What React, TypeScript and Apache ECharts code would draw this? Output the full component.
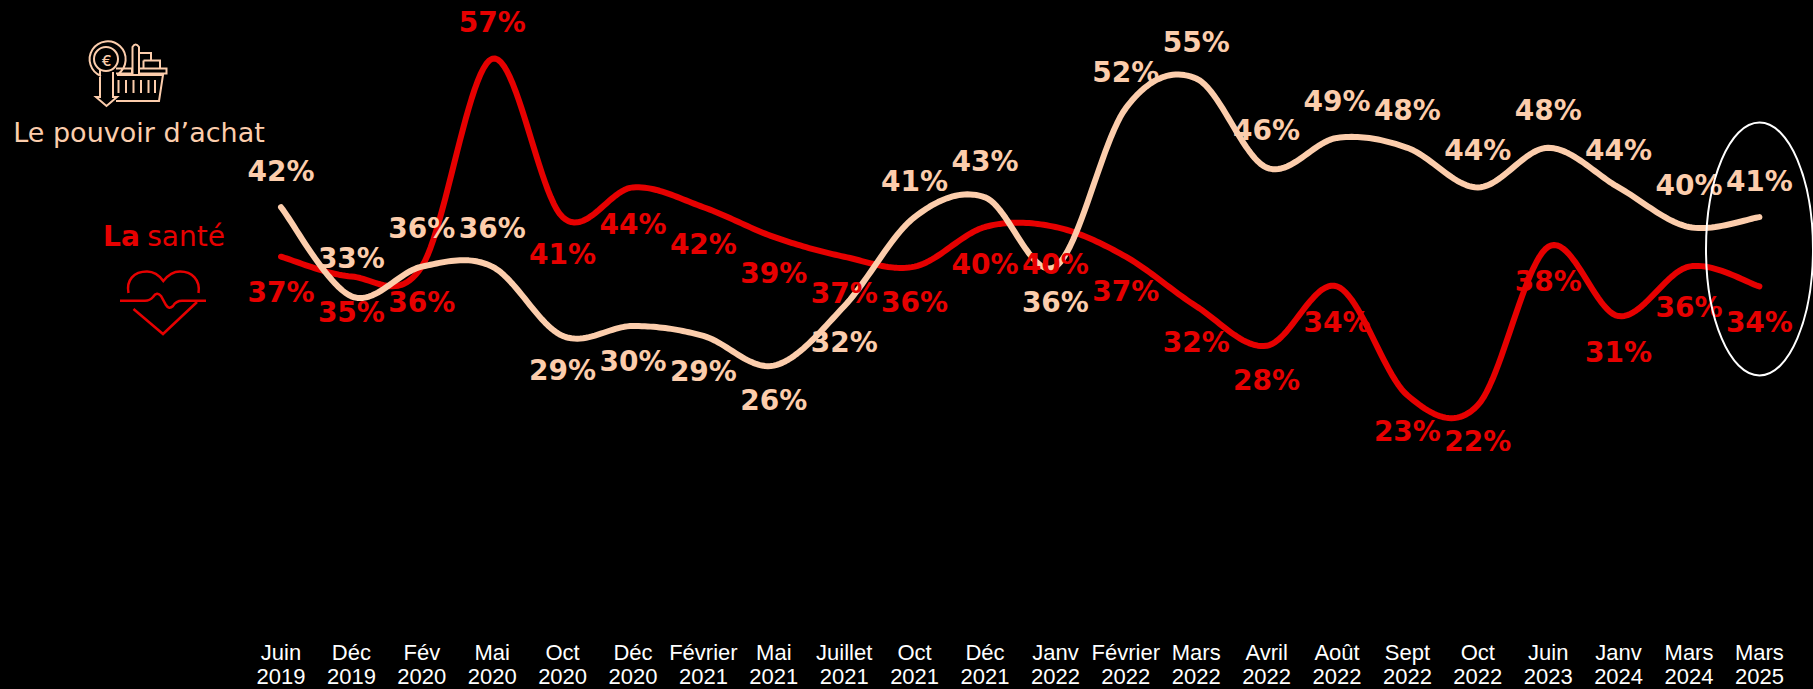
import React, { useEffect, useRef } from "react";
import * as echarts from "echarts";

const categories = [
  "Juin\n2019", "Déc\n2019", "Fév\n2020", "Mai\n2020", "Oct\n2020", "Déc\n2020", "Février\n2021", "Mai\n2021",
  "Juillet\n2021", "Oct\n2021", "Déc\n2021", "Janv\n2022", "Février\n2022", "Mars\n2022", "Avril\n2022", "Août\n2022",
  "Sept\n2022", "Oct\n2022", "Juin\n2023", "Janv\n2024", "Mars\n2024", "Mars\n2025",
];
const pouvoirAchat = [42, 33, 36, 36, 29, 30, 29, 26, 32, 41, 43, 36, 52, 55, 46, 49, 48, 44, 48, 44, 40, 41];
const sante = [37, 35, 36, 57, 41, 44, 42, 39, 37, 36, 40, 40, 37, 32, 28, 34, 23, 22, 38, 31, 36, 34];

const pouvoirLabelDy = [-36, -38, -38, -38, 35, 35, 36, 35, 36, -36, -36, 36, -36, -36, -37, -36, -37, -37, -37, -37, -42, -36];
const santeLabelDy = [36, 36, 36, -36, 37, 37, 37, 37, 37, 36, 37, 37, 35, 36, 35, 36, 36, 36, 35, 36, 41, 36];

const PEACH = "#FCCDAC";
const RED = "#E60000";
const LABEL_FONT = "DejaVu Sans";
const SEGMENT_STEPS = 24;

const basketPath =
  "M118 74 A18 18 0 1 0 101 76 " +
  "M118 59 A12 12 0 1 1 94 59 A12 12 0 1 1 118 59 " +
  "M100 70 L100 97 L96 97 L106.5 106 L117 97 L113 97 L113 72 " +
  "M116 68.5 L132 68.5 L132 73.5 L116 73.5 " +
  "M139 68.5 L166.5 68.5 L166.5 73.5 L139 73.5 " +
  "M117 75 L163 75 L159 101 L116 101 " +
  "M132.5 74 L132.5 47 Q135.5 42 139 47 L139 74 " +
  "M139 53 L151 53 L151 60 M143.5 60.5 L160 60.5 L160 68 M143.5 60.5 L143.5 68 " +
  "M118.5 80 L118.5 93 M126 80 L126 93 M133.5 80 L133.5 93 M141 80 L141 93 M148.5 80 L148.5 93 M155 80 L155 93";

const heartPath =
  "M128.5 293 C126 280 134 271.5 147 271.5 C154 271.5 159 275 163.3 281 C168 275 173 271.5 180 271.5 C192 271.5 200.5 280 198.5 293 " +
  "M120 300.7 L145 300.7 Q150 300.7 153 297 Q157 291 161 296 L166 305 Q169 310 173 306 Q176 300.7 182 300.7 L206 300.7 " +
  "M133.5 309 L163 334 L197 302";

echarts.graphic.registerShape("basketIcon", echarts.graphic.extendPath(basketPath, {}));
echarts.graphic.registerShape("heartIcon", echarts.graphic.extendPath(heartPath, {}));

// Catmull-Rom spline through the points the axes give for the values.
function splinePoints(pts: number[][]) {
  const out: number[][] = [];
  for (let i = 0; i < pts.length - 1; i++) {
    const p0 = pts[Math.max(i - 1, 0)];
    const p1 = pts[i];
    const p2 = pts[i + 1];
    const p3 = pts[Math.min(i + 2, pts.length - 1)];
    for (let s = 0; s < SEGMENT_STEPS; s++) {
      const t = s / SEGMENT_STEPS;
      const t2 = t * t;
      const t3 = t2 * t;
      out.push(
        [0, 1].map(
          (k) =>
            0.5 *
            (2 * p1[k] + (p2[k] - p0[k]) * t + (2 * p0[k] - 5 * p1[k] + 4 * p2[k] - p3[k]) * t2 + (3 * p1[k] - p0[k] - 3 * p2[k] + p3[k]) * t3),
        ),
      );
    }
  }
  out.push(pts[pts.length - 1]);
  return out;
}

function curveSeries(name: string, values: number[], color: string) {
  return {
    name: name + " (courbe)",
    type: "custom",
    coordinateSystem: "cartesian2d",
    z: 2,
    silent: true,
    clip: false,
    encode: { x: 0, y: 1 },
    data: values.map((v, i) => [i, v]),
    renderItem: (params: any, api: any) => {
      if (params.dataIndex !== 0) return null;
      const pts = values.map((v, i) => api.coord([i, v]));
      return {
        type: "polyline",
        shape: { points: splinePoints(pts) },
        style: { fill: "none", stroke: color, lineWidth: 6, lineCap: "round", lineJoin: "round" },
      };
    },
  };
}

function labelSeries(name: string, values: number[], dy: number[], color: string) {
  return {
    name,
    type: "line",
    z: 3,
    data: values.map((value, i) => ({ value, label: { offset: [0, dy[i]] } })),
    symbol: "circle",
    symbolSize: 1,
    showSymbol: true,
    itemStyle: { color: "transparent", borderWidth: 0 },
    lineStyle: { color, width: 0, opacity: 0 },
    label: {
      show: true,
      position: "inside",
      formatter: "{c}%",
      color,
      fontFamily: LABEL_FONT,
      fontWeight: 700,
      fontSize: 28,
      align: "center",
      verticalAlign: "middle",
    },
    emphasis: { disabled: true },
    silent: true,
  };
}

export default function App() {
  const ref = useRef<HTMLDivElement>(null);
  useEffect(() => {
    document.body.style.margin = "0";
    document.body.style.background = "#000";
    const chart = echarts.init(ref.current!, undefined, { renderer: "svg" });
    chart.setOption({
      animation: false,
      backgroundColor: "#000",
      grid: { left: 245.8, right: 18.4, top: 29, bottom: 66, containLabel: false, outerBoundsMode: "none" },
      xAxis: {
        type: "category",
        data: categories,
        boundaryGap: true,
        axisLine: { show: false },
        axisTick: { show: false },
        axisLabel: {
          interval: 0,
          color: "#fff",
          fontFamily: "Liberation Sans",
          fontSize: 22,
          lineHeight: 24,
          margin: 17.5,
          hideOverlap: false,
        },
      },
      yAxis: { type: "value", min: 0, max: 60, show: false },
      series: [
        curveSeries("La santé", sante, RED),
        curveSeries("Le pouvoir d’achat", pouvoirAchat, PEACH),
        labelSeries("La santé", sante, santeLabelDy, RED),
        labelSeries("Le pouvoir d’achat", pouvoirAchat, pouvoirLabelDy, PEACH),
      ],
      graphic: [
        {
          type: "basketIcon",
          style: { fill: "none", stroke: PEACH, lineWidth: 2 },
        },
        {
          type: "text",
          x: 106.5,
          y: 60,
          style: { text: "€", fill: PEACH, font: "500 15px Inter", align: "center", verticalAlign: "middle" },
        },
        {
          type: "text",
          x: 139,
          y: 132,
          style: { text: "Le pouvoir d’achat", fill: PEACH, font: "400 27px 'DejaVu Sans'", align: "center", verticalAlign: "middle" },
        },
        {
          type: "text",
          x: 164,
          y: 236,
          style: {
            text: "{b|La} {r|santé}",
            align: "center",
            verticalAlign: "middle",
            rich: {
              b: { fill: RED, font: "700 28px 'DejaVu Sans'", padding: [0, 4, 0, 0] },
              r: { fill: RED, font: "400 28px 'DejaVu Sans'" },
            },
          },
        },
        {
          type: "heartIcon",
          style: { fill: "none", stroke: RED, lineWidth: 2.5 },
        },
        {
          type: "ellipse",
          shape: { cx: 1759.5, cy: 249, rx: 53.5, ry: 126.5 },
          style: { fill: "none", stroke: "#fff", lineWidth: 2 },
          z: 100,
        },
      ],
    });
    return () => chart.dispose();
  }, []);
  return <div ref={ref} style={{ width: 1813, height: 689, background: "#000" }} />;
}
